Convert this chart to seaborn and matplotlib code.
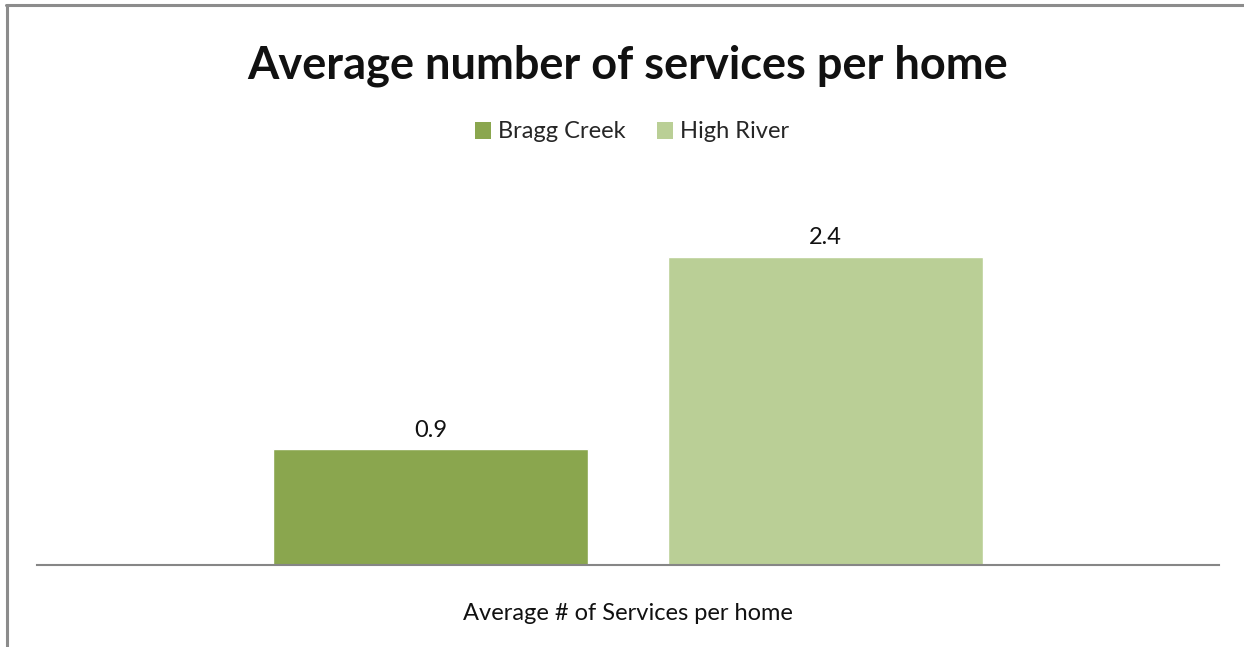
import matplotlib
matplotlib.use("Agg")
import matplotlib.pyplot as plt
import seaborn as sns
import pandas as pd
from matplotlib.lines import Line2D
from matplotlib.patches import Patch

# Chart data
measure = ["Average # of Services per home"]
areas = ["Bragg Creek", "High River"]
avg_services = [0.9, 2.4]
area_colors = ["#8AA64E", "#BACF96"]

df = pd.DataFrame({
    "measure": measure * len(areas),
    "area": areas,
    "value": avg_services,
})

sns.set_theme(style="white")
plt.rcParams["font.family"] = ["Lato", "DejaVu Sans"]

W, H = 1244, 647
fig = plt.figure(figsize=(W / 100, H / 100), dpi=100)
fig.patch.set_facecolor("white")

ax = fig.add_axes([37 / W, 82 / H, 1182 / W, 385.5 / H])
sns.barplot(
    data=df, x="measure", y="value", hue="area", hue_order=areas,
    palette=area_colors, saturation=1, width=0.668, gap=0.202,
    legend=False, ax=ax,
)

ax.set_ylim(0, 3)
ax.set_xlim(-0.5, 0.5)
ax.set_yticks([])
ax.set_xlabel("")
ax.set_ylabel("")
for side in ["top", "left", "right"]:
    ax.spines[side].set_visible(False)
ax.spines["bottom"].set_color("#868686")
ax.spines["bottom"].set_linewidth(1.5)
ax.tick_params(axis="x", length=0, pad=27.5, labelsize=17, labelcolor="#111111")

for cont in ax.containers:
    ax.bar_label(cont, fmt="%.1f", padding=6, fontsize=17, color="#111111")

# Legend
handles = [Patch(facecolor=c, edgecolor="none") for c in area_colors]
fig.legend(
    handles, areas, loc="center", bbox_to_anchor=(632 / W, 1 - 132 / H),
    ncol=2, frameon=False, fontsize=17, handlelength=0.7, handleheight=0.7,
    handletextpad=0.3, columnspacing=1.3,
)

# Title
fig.text(628 / W, 1 - 66 / H, "Average number of services per home",
         ha="center", va="center", fontsize=32.5, fontweight="bold", color="#111111")

# Chart frame
fig.add_artist(Line2D([6 / W, 1], [1 - 5 / H, 1 - 5 / H], color="#8c8c8c",
                      lw=2.2, transform=fig.transFigure))
fig.add_artist(Line2D([7 / W, 7 / W], [0, 1 - 5 / H], color="#8c8c8c",
                      lw=2.2, transform=fig.transFigure))

fig.savefig("out.png", dpi=100, facecolor="white")
